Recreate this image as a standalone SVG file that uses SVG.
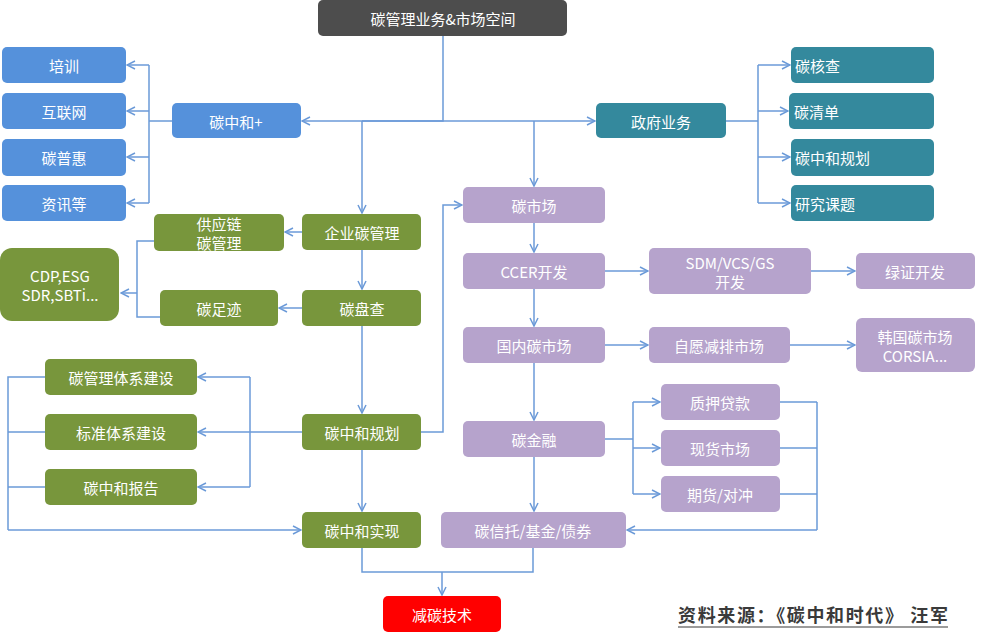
<svg xmlns="http://www.w3.org/2000/svg" width="1000" height="633" viewBox="0 0 1000 633">
<style>
.n{stroke:none}
.gray{fill:#4d4d4d}
.blue{fill:#5591db}
.teal{fill:#34899d}
.green{fill:#78963c}
.purple{fill:#b6a3cc}
.red{fill:#ff0000}
text{font-family:"Noto Sans CJK SC","Noto Sans",sans-serif;font-size:15px;fill:#ffffff;text-anchor:middle;dominant-baseline:central}
.l{text-anchor:start}
.c path{fill:none;stroke:#6b9ad8;stroke-width:1.5}
.foot{fill:#3a3a3a;font-size:18px;font-weight:bold;text-anchor:start;dominant-baseline:alphabetic}
</style>
<defs>
<marker id="a" viewBox="0 0 10 10" refX="9" refY="5" markerWidth="10" markerHeight="10" markerUnits="userSpaceOnUse" orient="auto">
<path d="M1,1 L9,5 L1,9" fill="none" stroke="#6b9ad8" stroke-width="1.5"/>
</marker>
</defs>
<rect width="1000" height="633" fill="#ffffff"/>
<g class="c">
<path d="M443,36 V121 H362 V121"/>
<path d="M443,121 H302" marker-end="url(#a)"/>
<path d="M443,121 H595" marker-end="url(#a)"/>
<path d="M362,121 V213" marker-end="url(#a)"/>
<path d="M534,121 V186" marker-end="url(#a)"/>
<path d="M172,121 H149 M149,65 V203"/>
<path d="M149,65 H127" marker-end="url(#a)"/>
<path d="M149,111 H127" marker-end="url(#a)"/>
<path d="M149,157 H127" marker-end="url(#a)"/>
<path d="M149,203 H127" marker-end="url(#a)"/>
<path d="M726,121 H758 M758,65 V203"/>
<path d="M758,65 H790" marker-end="url(#a)"/>
<path d="M758,111 H788" marker-end="url(#a)"/>
<path d="M758,157 H790" marker-end="url(#a)"/>
<path d="M758,203 H790" marker-end="url(#a)"/>
<path d="M302,232 H285" marker-end="url(#a)"/>
<path d="M362,250 V289" marker-end="url(#a)"/>
<path d="M302,308 H279" marker-end="url(#a)"/>
<path d="M362,326 V413" marker-end="url(#a)"/>
<path d="M154,241 H137 V317 H160"/>
<path d="M137,293 H121" marker-end="url(#a)"/>
<path d="M302,432 H198" marker-end="url(#a)"/>
<path d="M250,377 V487"/>
<path d="M250,377 H198" marker-end="url(#a)"/>
<path d="M250,487 H198" marker-end="url(#a)"/>
<path d="M45,377 H8 V530 M45,432 H8 M45,487 H8"/>
<path d="M8,530 H301" marker-end="url(#a)"/>
<path d="M362,450 V511" marker-end="url(#a)"/>
<path d="M421,432 H443 V205 H462" marker-end="url(#a)"/>
<path d="M362,548 V572 H533 V548"/>
<path d="M442,572 V595" marker-end="url(#a)"/>
<path d="M534,223 V252" marker-end="url(#a)"/>
<path d="M534,289 V326" marker-end="url(#a)"/>
<path d="M534,363 V420" marker-end="url(#a)"/>
<path d="M534,457 V511" marker-end="url(#a)"/>
<path d="M605,271 H648" marker-end="url(#a)"/>
<path d="M811,271 H855" marker-end="url(#a)"/>
<path d="M605,345 H648" marker-end="url(#a)"/>
<path d="M790,345 H855" marker-end="url(#a)"/>
<path d="M605,439 H633 M633,402 V494"/>
<path d="M633,402 H660" marker-end="url(#a)"/>
<path d="M633,448 H660" marker-end="url(#a)"/>
<path d="M633,494 H660" marker-end="url(#a)"/>
<path d="M780,402 H817 M780,448 H817 M780,494 H817 M817,402 V530"/>
<path d="M817,530 H627" marker-end="url(#a)"/>
</g>
<g id="n-top"><rect class="gray" x="318" y="0" width="249" height="36" rx="5"/><text x="443" y="18">碳管理业务&amp;市场空间</text></g>
<g id="n-peixun"><rect class="blue" x="2" y="47" width="124" height="36" rx="5"/><text x="64" y="65">培训</text></g>
<g id="n-hulianwang"><rect class="blue" x="2" y="93" width="124" height="36" rx="5"/><text x="64" y="111">互联网</text></g>
<g id="n-tanpuhui"><rect class="blue" x="2" y="139" width="124" height="37" rx="5"/><text x="64" y="157">碳普惠</text></g>
<g id="n-zixun"><rect class="blue" x="2" y="185" width="124" height="36" rx="5"/><text x="64" y="203">资讯等</text></g>
<g id="n-tzh-plus"><rect class="blue" x="172" y="103" width="129" height="35" rx="5"/><text x="236" y="121">碳中和+</text></g>
<g id="n-gov"><rect class="teal" x="596" y="103" width="130" height="35" rx="5"/><text x="661" y="121">政府业务</text></g>
<g id="n-hecha"><rect class="teal" x="791" y="47" width="143" height="36" rx="5"/><text class="l" x="795" y="65">碳核查</text></g>
<g id="n-qingdan"><rect class="teal" x="789" y="93" width="145" height="36" rx="5"/><text class="l" x="794" y="111">碳清单</text></g>
<g id="n-guihua-gov"><rect class="teal" x="791" y="139" width="143" height="37" rx="5"/><text class="l" x="795" y="157">碳中和规划</text></g>
<g id="n-keti"><rect class="teal" x="791" y="185" width="143" height="36" rx="5"/><text class="l" x="795" y="203">研究课题</text></g>
<g id="n-qiye"><rect class="green" x="302" y="214" width="119" height="36" rx="5"/><text x="362" y="232">企业碳管理</text></g>
<g id="n-gongying"><rect class="green" x="154" y="214" width="130" height="37" rx="5"/><text x="219" y="223">供应链</text><text x="219" y="242">碳管理</text></g>
<g id="n-pancha"><rect class="green" x="302" y="290" width="119" height="36" rx="5"/><text x="362" y="308">碳盘查</text></g>
<g id="n-zuji"><rect class="green" x="160" y="290" width="118" height="36" rx="5"/><text x="219" y="308">碳足迹</text></g>
<g id="n-cdp"><rect class="green" x="0" y="248" width="119" height="73" rx="12"/><text x="60" y="275">CDP,ESG</text><text x="60" y="294">SDR,SBTi...</text></g>
<g id="n-guihua"><rect class="green" x="302" y="414" width="119" height="36" rx="5"/><text x="362" y="432">碳中和规划</text></g>
<g id="n-tixi"><rect class="green" x="45" y="359" width="152" height="36" rx="5"/><text x="121" y="377">碳管理体系建设</text></g>
<g id="n-biaozhun"><rect class="green" x="45" y="414" width="152" height="36" rx="5"/><text x="121" y="432">标准体系建设</text></g>
<g id="n-baogao"><rect class="green" x="45" y="469" width="152" height="36" rx="5"/><text x="121" y="487">碳中和报告</text></g>
<g id="n-shixian"><rect class="green" x="302" y="512" width="119" height="36" rx="5"/><text x="362" y="530">碳中和实现</text></g>
<g id="n-shichang"><rect class="purple" x="463" y="187" width="142" height="36" rx="5"/><text x="534" y="205">碳市场</text></g>
<g id="n-ccer"><rect class="purple" x="463" y="253" width="142" height="36" rx="5"/><text x="534" y="271">CCER开发</text></g>
<g id="n-sdm"><rect class="purple" x="649" y="248" width="162" height="46" rx="5"/><text x="730" y="262">SDM/VCS/GS</text><text x="730" y="281">开发</text></g>
<g id="n-lvzheng"><rect class="purple" x="856" y="253" width="119" height="36" rx="5"/><text x="915" y="271">绿证开发</text></g>
<g id="n-guonei"><rect class="purple" x="463" y="327" width="142" height="36" rx="5"/><text x="534" y="345">国内碳市场</text></g>
<g id="n-ziyuan"><rect class="purple" x="649" y="327" width="141" height="36" rx="5"/><text x="719" y="345">自愿减排市场</text></g>
<g id="n-hanguo"><rect class="purple" x="856" y="318" width="119" height="54" rx="6"/><text x="915" y="336">韩国碳市场</text><text x="915" y="355">CORSIA...</text></g>
<g id="n-jinrong"><rect class="purple" x="463" y="421" width="142" height="36" rx="5"/><text x="534" y="439">碳金融</text></g>
<g id="n-zhiya"><rect class="purple" x="661" y="384" width="119" height="36" rx="5"/><text x="720" y="402">质押贷款</text></g>
<g id="n-xianhuo"><rect class="purple" x="661" y="430" width="119" height="36" rx="5"/><text x="720" y="448">现货市场</text></g>
<g id="n-qihuo"><rect class="purple" x="661" y="476" width="119" height="36" rx="5"/><text x="720" y="494">期货/对冲</text></g>
<g id="n-xintuo"><rect class="purple" x="441" y="512" width="185" height="36" rx="5"/><text x="533" y="530">碳信托/基金/债券</text></g>
<g id="n-jiantan"><rect class="red" x="383" y="596" width="118" height="36" rx="5"/><text x="442" y="614">减碳技术</text></g>
<g id="footer"><text class="foot" x="678" y="622" textLength="270" lengthAdjust="spacing">资料来源：《碳中和时代》 汪军</text><line x1="678" y1="627" x2="948" y2="627" stroke="#7a7a7a" stroke-width="1.5"/></g>
</svg>
